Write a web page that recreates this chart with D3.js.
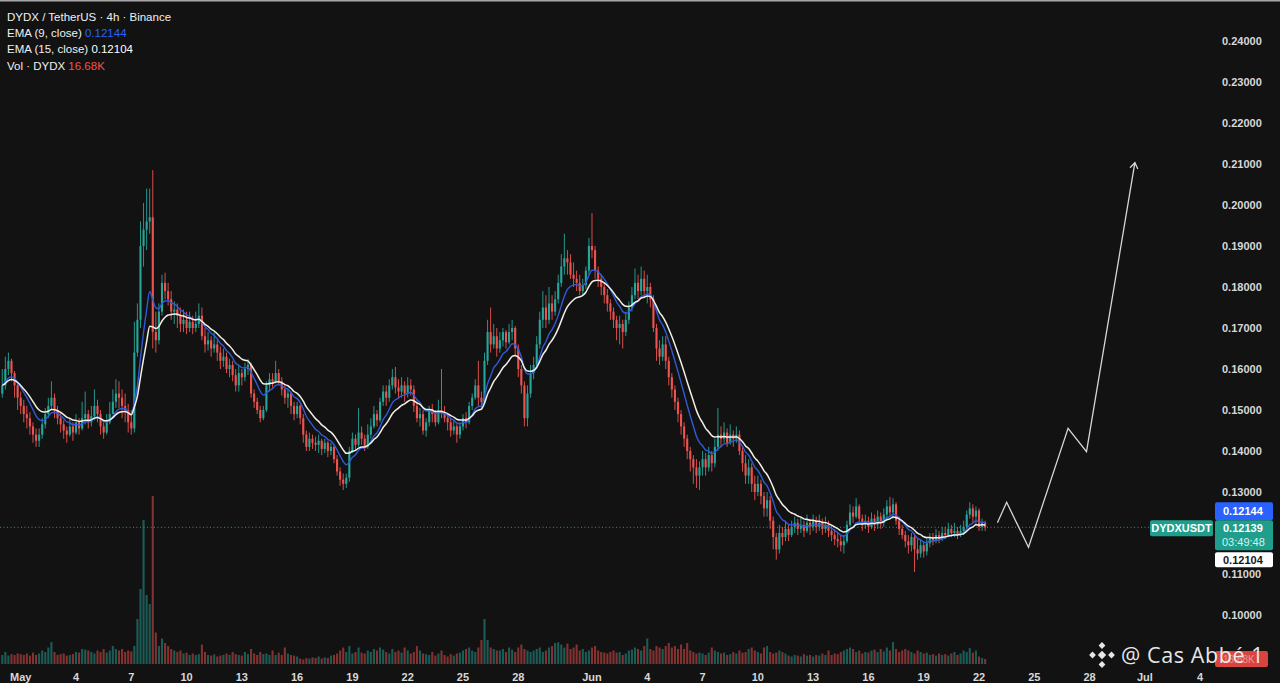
<!DOCTYPE html>
<html><head><meta charset="utf-8">
<script src="https://cdn.jsdelivr.net/npm/d3@7/dist/d3.min.js"></script>
<style>html,body{margin:0;padding:0;background:#121212;overflow:hidden}</style>
</head><body>
<svg id="c" width="1280" height="683"></svg>
<script>
// ---------- DATA ----------
const firstCandle = "2025-04-30T00:00:00Z";   // 4h candles
const candleHours = 4;
// prices in 1e-4 USDT, one row per day (6 candles)
const closes = [
1560,1600,1620,1590,1560,1530,
1510,1490,1480,1460,1440,1425,
1440,1465,1490,1510,1530,1500,
1480,1465,1450,1440,1460,1445,
1470,1455,1480,1490,1470,1485,
1510,1490,1460,1445,1470,1490,
1520,1540,1530,1510,1500,1470,
1455,1640,1720,1900,1940,1960,
1970,1690,1670,1740,1810,1790,
1770,1740,1745,1730,1710,1720,
1700,1715,1700,1710,1730,1680,
1660,1670,1650,1660,1640,1620,
1630,1600,1610,1585,1560,1590,
1580,1600,1610,1540,1520,1500,
1480,1500,1560,1575,1570,1590,
1570,1550,1530,1540,1510,1490,
1510,1480,1440,1410,1430,1420,
1415,1425,1405,1420,1400,1410,
1380,1350,1330,1320,1335,1400,
1430,1415,1445,1430,1410,1440,
1460,1490,1475,1520,1545,1530,
1560,1580,1555,1545,1560,1540,
1560,1550,1510,1480,1490,1450,
1470,1500,1490,1470,1500,1495,
1480,1470,1450,1460,1440,1460,
1480,1470,1510,1530,1560,1530,
1520,1620,1690,1660,1680,1650,
1670,1690,1665,1690,1700,1650,
1600,1560,1480,1540,1590,1610,
1660,1720,1750,1720,1760,1740,
1770,1810,1850,1870,1860,1830,
1820,1810,1790,1805,1840,1900,
1890,1840,1820,1800,1780,1760,
1740,1720,1700,1710,1690,1720,
1750,1780,1810,1790,1820,1790,
1800,1770,1700,1650,1630,1660,
1620,1580,1550,1520,1490,1460,
1430,1400,1380,1360,1340,1360,
1380,1360,1390,1370,1410,1440,
1430,1445,1420,1440,1430,1440,
1400,1370,1340,1360,1320,1300,
1320,1290,1260,1280,1230,1190,
1160,1200,1190,1210,1195,1215,
1225,1210,1220,1205,1225,1215,
1230,1215,1225,1210,1220,1205,
1195,1185,1180,1170,1180,1220,
1250,1240,1265,1235,1220,1230,
1215,1235,1220,1240,1225,1245,
1265,1250,1270,1230,1210,1195,
1180,1170,1190,1160,1150,1170,
1155,1175,1190,1180,1195,1185,
1200,1195,1210,1200,1205,1195,
1205,1215,1245,1260,1240,1255,
1215,1225,1213.9
];
const highs = [
1600,1630,1640,1625,1595,1565,
1545,1525,1510,1495,1470,1455,
1455,1480,1505,1530,1570,1540,
1510,1495,1475,1460,1480,1470,
1490,1480,1520,1545,1500,1510,
1550,1525,1500,1470,1490,1520,
1550,1575,1570,1550,1540,1515,
1500,1715,1760,1960,2005,2040,
2040,2085,1740,1760,1830,1835,
1810,1790,1765,1760,1750,1745,
1740,1740,1730,1740,1760,1750,
1700,1690,1680,1690,1670,1655,
1650,1640,1625,1620,1600,1610,
1600,1615,1625,1615,1550,1530,
1510,1510,1570,1590,1590,1620,
1600,1580,1560,1550,1545,1520,
1520,1515,1490,1450,1445,1440,
1435,1440,1430,1430,1425,1420,
1415,1390,1360,1345,1345,1410,
1445,1440,1505,1460,1440,1465,
1480,1510,1500,1530,1560,1560,
1575,1600,1605,1575,1580,1570,
1580,1575,1560,1520,1505,1500,
1480,1510,1515,1500,1525,1600,
1510,1490,1480,1475,1465,1470,
1490,1495,1520,1540,1575,1620,
1545,1640,1720,1750,1710,1700,
1690,1700,1695,1710,1720,1705,
1660,1610,1570,1560,1610,1630,
1680,1740,1790,1780,1800,1780,
1790,1830,1880,1930,1890,1880,
1860,1840,1830,1820,1850,1920,
1980,1900,1850,1830,1810,1795,
1770,1750,1730,1730,1720,1740,
1765,1800,1845,1830,1850,1840,
1830,1810,1780,1710,1670,1680,
1680,1630,1590,1560,1530,1500,
1470,1440,1410,1390,1380,1375,
1400,1395,1410,1400,1430,1505,
1460,1470,1455,1465,1450,1460,
1450,1410,1390,1380,1370,1340,
1340,1330,1300,1300,1290,1240,
1200,1220,1215,1230,1220,1230,
1240,1235,1240,1230,1245,1235,
1245,1240,1245,1235,1240,1230,
1220,1210,1200,1195,1195,1230,
1270,1265,1285,1270,1245,1245,
1240,1250,1245,1255,1250,1260,
1280,1288,1285,1275,1240,1220,
1205,1195,1200,1200,1185,1185,
1180,1190,1200,1200,1210,1205,
1215,1215,1225,1220,1225,1215,
1220,1230,1255,1275,1270,1265,
1260,1235,1230
];
const lows = [
1530,1550,1585,1570,1530,1500,
1490,1470,1455,1440,1420,1410,
1410,1430,1455,1480,1500,1480,
1465,1445,1430,1420,1435,1425,
1440,1440,1450,1465,1455,1460,
1475,1470,1440,1430,1440,1465,
1490,1505,1505,1480,1470,1445,
1440,1445,1630,1700,1850,1890,
1930,1650,1640,1660,1730,1770,
1755,1720,1710,1700,1690,1690,
1685,1690,1685,1690,1700,1670,
1640,1645,1630,1640,1620,1600,
1605,1590,1580,1570,1545,1545,
1560,1570,1585,1530,1505,1490,
1470,1475,1495,1545,1555,1565,
1560,1535,1515,1505,1490,1475,
1480,1465,1420,1400,1400,1405,
1400,1395,1390,1395,1385,1390,
1370,1340,1315,1305,1310,1325,
1395,1400,1410,1415,1400,1405,
1430,1455,1460,1470,1510,1510,
1520,1550,1540,1530,1530,1520,
1530,1535,1495,1470,1460,1440,
1435,1460,1470,1460,1465,1480,
1470,1450,1435,1440,1420,1430,
1450,1455,1465,1500,1525,1510,
1500,1515,1610,1640,1650,1630,
1640,1655,1650,1660,1670,1630,
1580,1540,1460,1460,1530,1575,
1600,1650,1700,1700,1710,1720,
1730,1760,1800,1830,1830,1820,
1800,1790,1780,1780,1795,1830,
1870,1820,1800,1780,1760,1740,
1720,1700,1670,1660,1650,1680,
1710,1740,1770,1770,1780,1775,
1760,1750,1690,1620,1610,1620,
1600,1560,1530,1500,1470,1440,
1410,1380,1350,1320,1310,1305,
1340,1340,1350,1350,1360,1400,
1410,1420,1410,1415,1410,1420,
1390,1350,1320,1320,1300,1280,
1290,1270,1240,1240,1210,1160,
1135,1150,1170,1180,1180,1190,
1200,1195,1200,1190,1200,1195,
1205,1200,1205,1195,1200,1190,
1180,1170,1165,1155,1150,1175,
1215,1225,1235,1225,1205,1210,
1200,1210,1205,1210,1210,1215,
1235,1240,1235,1220,1195,1185,
1165,1150,1155,1105,1135,1140,
1140,1145,1165,1170,1175,1175,
1180,1185,1190,1190,1190,1185,
1190,1195,1210,1235,1225,1220,
1205,1205,1205
];
// volume in thousands of DYDX
const volumes = [
30,40,28,33,30,35,
33,30,35,28,38,30,
35,45,40,55,73,40,
30,33,35,28,30,33,
40,38,50,48,45,40,
35,45,40,50,38,45,
60,50,45,50,40,45,
42,60,150,250,480,230,
200,560,105,60,85,70,
60,50,45,40,45,35,
38,30,35,30,33,65,
40,30,28,32,25,28,
30,35,30,40,33,30,
28,40,33,50,35,30,
40,33,35,30,45,30,
38,30,55,35,30,28,
25,18,15,20,18,22,
20,25,18,22,20,28,
30,35,45,55,40,60,
35,40,55,38,35,45,
40,50,45,55,48,40,
35,50,40,45,38,55,
45,35,40,60,45,35,
33,30,40,28,35,45,
30,25,33,28,35,38,
45,50,55,45,40,55,
80,150,80,55,50,45,
45,50,40,55,48,40,
55,65,50,45,40,45,
50,55,40,45,55,60,
70,72,65,55,68,50,
55,65,45,50,40,45,
55,60,45,40,38,35,
40,45,38,40,30,35,
45,48,55,50,45,60,
85,50,45,60,55,50,
60,70,55,60,50,65,
50,70,45,40,35,38,
35,30,38,55,45,40,
35,38,30,33,40,35,
45,38,40,50,55,45,
40,35,55,60,40,35,
38,45,40,35,28,25,
30,28,25,33,28,30,
25,30,28,35,30,45,
30,35,33,40,45,50,
55,50,40,45,35,40,
38,45,48,40,50,42,
55,45,73,50,40,45,
50,45,40,35,45,40,
35,38,30,33,28,35,
30,33,28,35,40,30,
35,45,40,53,38,45,
25,20,16.68
];
const priceTicks = [0.24,0.23,0.22,0.21,0.20,0.19,0.18,0.17,0.16,0.15,0.14,0.13,0.11,0.10];
const timeTickDates = ["2025-05-01","2025-05-04","2025-05-07","2025-05-10","2025-05-13","2025-05-16","2025-05-19","2025-05-22","2025-05-25","2025-05-28","2025-06-01","2025-06-04","2025-06-07","2025-06-10","2025-06-13","2025-06-16","2025-06-19","2025-06-22","2025-06-25","2025-06-28","2025-07-01","2025-07-04"];
const timeTickLabels = ["May","4","7","10","13","16","19","22","25","28","Jun","4","7","10","13","16","19","22","25","28","Jul","4"];
// hand-drawn projection (time, price)
const arrowTimes = ["2025-06-23T00:00Z","2025-06-23T12:00Z","2025-06-24T16:30Z","2025-06-26T20:00Z","2025-06-27T20:00Z","2025-06-30T11:00Z"];
const arrowPrices = [0.12251,0.12749,0.11651,0.14554,0.13983,0.21032];
const titleText = "DYDX / TetherUS · 4h · Binance";
const ema9Text = "0.12144", ema15Text = "0.12104", volText = "16.68K";
const symbolText = "DYDXUSDT", countdownText = "03:49:48";
const ema9Value = 0.12144, ema15Value = 0.12104;
const watermarkText = "@ Cas Abbé 1";

// ---------- SCALES ----------
const W = 1280, H = 683;
const svg = d3.select("#c");
const x = d3.scaleUtc().domain([new Date("2025-05-01T00:00Z"), new Date("2025-06-22T00:00Z")]).range([20.7, 979]);
const y = d3.scaleLinear().domain([0.10, 0.24]).range([615, 41]);
const yv = d3.scaleLinear().domain([0, 560]).range([664, 496]);

const t0 = new Date(firstCandle).getTime();
const n = Math.min(closes.length, highs.length, lows.length, volumes.length);
const candles = d3.range(n).map(i => {
  const c = closes[i] / 1e4;
  const o = (i === 0 ? 1540 : closes[i - 1]) / 1e4;
  return {
    t: new Date(t0 + i * candleHours * 3600e3),
    o, c,
    h: Math.max(highs[i] / 1e4, o, c),
    l: Math.min(lows[i] / 1e4, o, c),
    v: volumes[i]
  };
});
function ema(period) {
  const k = 2 / (period + 1);
  let e = candles[0].c;
  return candles.map(d => (e = d.c * k + e * (1 - k), { t: d.t, v: e }));
}

svg.append("rect").attr("width", W).attr("height", H).attr("fill", "#121212");
svg.append("rect").attr("width", W).attr("height", 1.5).attr("fill", "#a8a8a8");

const UP = "#26a69a", DN = "#ef5350";
const bw = 2.1;

// volume
svg.append("g").selectAll("rect").data(candles).join("rect")
  .attr("x", d => x(d.t) - bw / 2).attr("width", bw)
  .attr("y", d => yv(d.v)).attr("height", d => yv(0) - yv(d.v))
  .attr("fill", d => d.c >= d.o ? "rgba(38,166,154,0.5)" : "rgba(239,83,80,0.5)");

// current price dotted line
const last = candles[candles.length - 1];
svg.append("line").attr("x1", 0).attr("x2", 1214)
  .attr("y1", y(last.c)).attr("y2", y(last.c))
  .attr("stroke", "#3a8f86").attr("stroke-width", 1).attr("stroke-dasharray", "1,2.5");

// candles
const cg = svg.append("g");
cg.selectAll("line").data(candles).join("line")
  .attr("x1", d => x(d.t)).attr("x2", d => x(d.t))
  .attr("y1", d => y(d.h)).attr("y2", d => y(d.l))
  .attr("stroke", d => d.c >= d.o ? UP : DN).attr("stroke-width", 0.9);
cg.selectAll("rect").data(candles).join("rect")
  .attr("x", d => x(d.t) - bw / 2).attr("width", bw)
  .attr("y", d => y(Math.max(d.o, d.c)))
  .attr("height", d => Math.max(1, Math.abs(y(d.o) - y(d.c))))
  .attr("fill", d => d.c >= d.o ? UP : DN);

// EMAs
const line = d3.line().x(d => x(d.t)).y(d => y(d.v)).curve(d3.curveMonotoneX);
svg.append("path").datum(ema(9)).attr("d", line).attr("fill", "none")
  .attr("stroke", "#2f5bd8").attr("stroke-width", 1.4);
svg.append("path").datum(ema(15)).attr("d", line).attr("fill", "none")
  .attr("stroke", "#f3efe6").attr("stroke-width", 1.5);

// projection arrow
const ap = arrowTimes.map((t, i) => [x(new Date(t)), y(arrowPrices[i])]);
svg.append("path").attr("d", d3.line()(ap)).attr("fill", "none")
  .attr("stroke", "#d6d6d6").attr("stroke-width", 1.3).attr("stroke-linejoin", "miter");
{
  const [x2, y2] = ap[ap.length - 1], [x1, y1] = ap[ap.length - 2];
  const ang = Math.atan2(y2 - y1, x2 - x1), L = 7;
  const head = [ang + Math.PI - 0.6, ang + Math.PI + 0.6].map(a => [x2 + L * Math.cos(a), y2 + L * Math.sin(a)]);
  svg.append("path").attr("d", d3.line()([head[0], [x2, y2], head[1]]))
    .attr("fill", "none").attr("stroke", "#d6d6d6").attr("stroke-width", 1.3);
}

// price axis labels
const AX = "#d8d8d8";
const FONT = "'Liberation Sans', Arial, sans-serif";
svg.append("g").selectAll("text").data(priceTicks).join("text")
  .attr("x", 1222).attr("y", d => y(d) + 4)
  .attr("fill", AX).attr("font-family", FONT).attr("font-size", 11).attr("font-weight", "bold")
  .text(d => d.toFixed(5));

// time axis labels
svg.append("g").selectAll("text").data(timeTickDates).join("text")
  .attr("x", d => x(new Date(d + "T00:00Z"))).attr("y", 680.5)
  .attr("text-anchor", "middle")
  .attr("fill", AX).attr("font-family", FONT).attr("font-size", 11).attr("font-weight", "bold")
  .text((d, i) => timeTickLabels[i]);

// price badges
const yc = y(last.c);
const gTop = yc - 7;
const BX = 1215, BW = 58;
svg.append("rect").attr("x", BX).attr("y", gTop - 18).attr("width", BW).attr("height", 18).attr("rx", 2).attr("fill", "#2962ff");
svg.append("text").attr("x", BX + 8).attr("y", gTop - 5).attr("fill", "#ffffff").attr("font-family", FONT).attr("font-size", 11).attr("font-weight", "bold").text(ema9Value.toFixed(5));
svg.append("rect").attr("x", BX).attr("y", gTop).attr("width", BW).attr("height", 30).attr("rx", 2).attr("fill", "#1f9e8c");
svg.append("text").attr("x", BX + 8).attr("y", gTop + 12).attr("fill", "#ffffff").attr("font-family", FONT).attr("font-size", 11).attr("font-weight", "bold").text(last.c.toFixed(5));
svg.append("text").attr("x", BX + 7).attr("y", gTop + 26).attr("fill", "#d8f2ee").attr("font-family", FONT).attr("font-size", 11).text(countdownText);
svg.append("rect").attr("x", BX).attr("y", gTop + 32).attr("width", BW).attr("height", 15).attr("rx", 2).attr("fill", "#ffffff");
svg.append("text").attr("x", BX + 8).attr("y", gTop + 44).attr("fill", "#131722").attr("font-family", FONT).attr("font-size", 11).attr("font-weight", "bold").text(ema15Value.toFixed(5));
svg.append("rect").attr("x", 1150).attr("y", gTop).attr("width", 63).attr("height", 16).attr("rx", 2).attr("fill", "#1f9e8c");
svg.append("text").attr("x", 1181.5).attr("y", gTop + 12).attr("text-anchor", "middle").attr("fill", "#ffffff").attr("font-family", FONT).attr("font-size", 11).attr("font-weight", "bold").text(symbolText);

// volume badge (partly under the watermark, as in the reference)
const yvl = yv(last.v);
svg.append("rect").attr("x", BX).attr("y", yvl - 8).attr("width", 53).attr("height", 16).attr("rx", 2).attr("fill", "#d9443f");
svg.append("text").attr("x", BX + 8).attr("y", yvl + 4).attr("fill", "#f4c8c6").attr("font-family", FONT).attr("font-size", 10).attr("opacity", 0.6).text(volText);

// legend
const lg = svg.append("g").attr("font-family", FONT).attr("font-size", 11.5).attr("fill", "#f0f0f0");
lg.append("text").attr("x", 7).attr("y", 21).text(titleText);
const r2 = lg.append("text").attr("x", 7).attr("y", 37); r2.append("tspan").text("EMA (9, close) "); r2.append("tspan").attr("fill", "#2962ff").text(ema9Text);
const r3 = lg.append("text").attr("x", 7).attr("y", 53); r3.append("tspan").text("EMA (15, close) "); r3.append("tspan").attr("fill", "#ffffff").text(ema15Text);
const r4 = lg.append("text").attr("x", 7).attr("y", 70); r4.append("tspan").text("Vol · DYDX "); r4.append("tspan").attr("fill", "#ef5350").text(volText);

// watermark: Binance-style logo + handle
const wm = svg.append("g").attr("fill", "#f2f2f2").attr("opacity", 0.95);
const lx = 1102, ly = 655;
const dia = (cx, cy, r) => `M${cx},${cy - r}L${cx + r},${cy}L${cx},${cy + r}L${cx - r},${cy}Z`;
wm.append("path").attr("d", dia(lx, ly, 4.2));
[[0,-9.5],[9.5,0],[0,9.5],[-9.5,0]].forEach(([dx, dy]) => wm.append("path").attr("d", dia(lx + dx, ly + dy, 3.4)));
wm.append("text").attr("x", 1121).attr("y", 663).attr("font-family", "'Open Sans', 'Noto Sans', sans-serif")
  .attr("font-size", 21.5).attr("letter-spacing", 0.6).text(watermarkText);
</script>
</body></html>
